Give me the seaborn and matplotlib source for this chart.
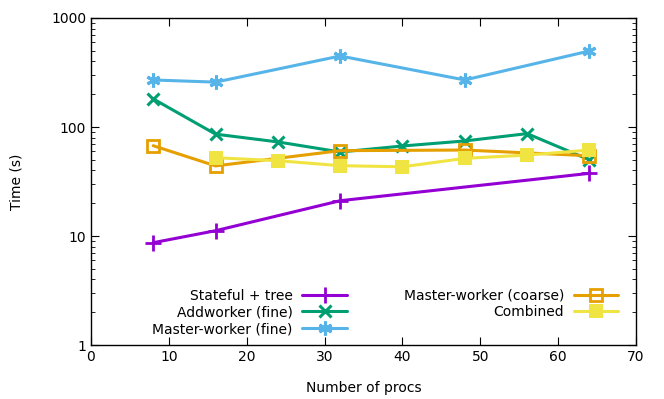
import matplotlib
matplotlib.use("Agg")
import matplotlib.pyplot as plt
import seaborn as sns
import pandas as pd
from matplotlib.ticker import LogLocator, NullFormatter

# data (time in seconds vs number of procs)
stateful_procs = [8, 16, 32, 64]
stateful_time = [8.7, 11.2, 21.1, 37.6]

addworker_procs = [8, 16, 24, 32, 40, 48, 56, 64]
addworker_time = [181, 86, 73, 59, 67, 74.5, 87, 50]

mw_fine_procs = [8, 16, 32, 48, 64]
mw_fine_time = [270, 258, 448, 270, 498]

mw_coarse_procs = [8, 16, 32, 48, 64]
mw_coarse_time = [67.4, 44, 60.7, 61.5, 54.5]

combined_procs = [16, 24, 32, 40, 48, 56, 64]
combined_time = [52.3, 49.1, 44.2, 43.2, 51.6, 55.3, 61.5]

series = [
    ("Stateful + tree", stateful_procs, stateful_time, "#9400d3", dict(marker="+", markersize=11, markeredgewidth=2)),
    ("Addworker (fine)", addworker_procs, addworker_time, "#009e73", dict(marker="x", markersize=9, markeredgewidth=2.2)),
    ("Master-worker (fine)", mw_fine_procs, mw_fine_time, "#56b4e9", dict(marker=(6, 2, 0), markersize=10, markeredgewidth=2.2)),
    ("Master-worker (coarse)", mw_coarse_procs, mw_coarse_time, "#e69f00", dict(marker="s", markersize=8, markeredgewidth=2, fillstyle="none")),
    ("Combined", combined_procs, combined_time, "#f0e442", dict(marker="s", markersize=9.5, markeredgewidth=0)),
]

sns.set_style("ticks")
plt.rcParams['font.family'] = ['DejaVu Sans']
plt.rcParams['text.color'] = 'black'
plt.rcParams['axes.labelcolor'] = 'black'

fig = plt.figure(figsize=(6.64, 3.99), dpi=100)
ax = fig.add_axes([0.137, 0.135, 0.821, 0.82])

for name, xs, ys, col, mk in series:
    df = pd.DataFrame({"procs": xs, "time": ys})
    sns.lineplot(data=df, x="procs", y="time", ax=ax, color=col, linewidth=2.2,
                 label=name, markeredgecolor=col, **mk)

ax.set_yscale("log")
ax.set_xlim(0, 70)
ax.set_ylim(1, 1000)
ax.set_xticks(range(0, 71, 10))
ax.set_yticks([1, 10, 100, 1000])
ax.set_yticklabels(["1", "10", "100", "1000"])
ax.yaxis.set_minor_locator(LogLocator(base=10, subs=range(2, 10)))
ax.yaxis.set_minor_formatter(NullFormatter())
ax.tick_params(which="both", direction="in", top=True, right=True, labelsize=10,
               colors="black", labelcolor="black")
ax.tick_params(which="major", length=6)
ax.tick_params(which="minor", length=3)
for s in ax.spines.values():
    s.set_visible(True)
    s.set_color("black")
    s.set_linewidth(1)

ax.set_xlabel("Number of procs", fontsize=10, labelpad=12)
ax.set_ylabel("Time (s)", fontsize=10, labelpad=20)

ax.legend(ncol=2, loc="lower right", bbox_to_anchor=(0.985, -0.002), frameon=False,
          markerfirst=False, fontsize=10, handlelength=3.2, handletextpad=0.7,
          columnspacing=4.1, labelspacing=0.2, borderpad=0.2)

fig.savefig("out.png", dpi=100)
